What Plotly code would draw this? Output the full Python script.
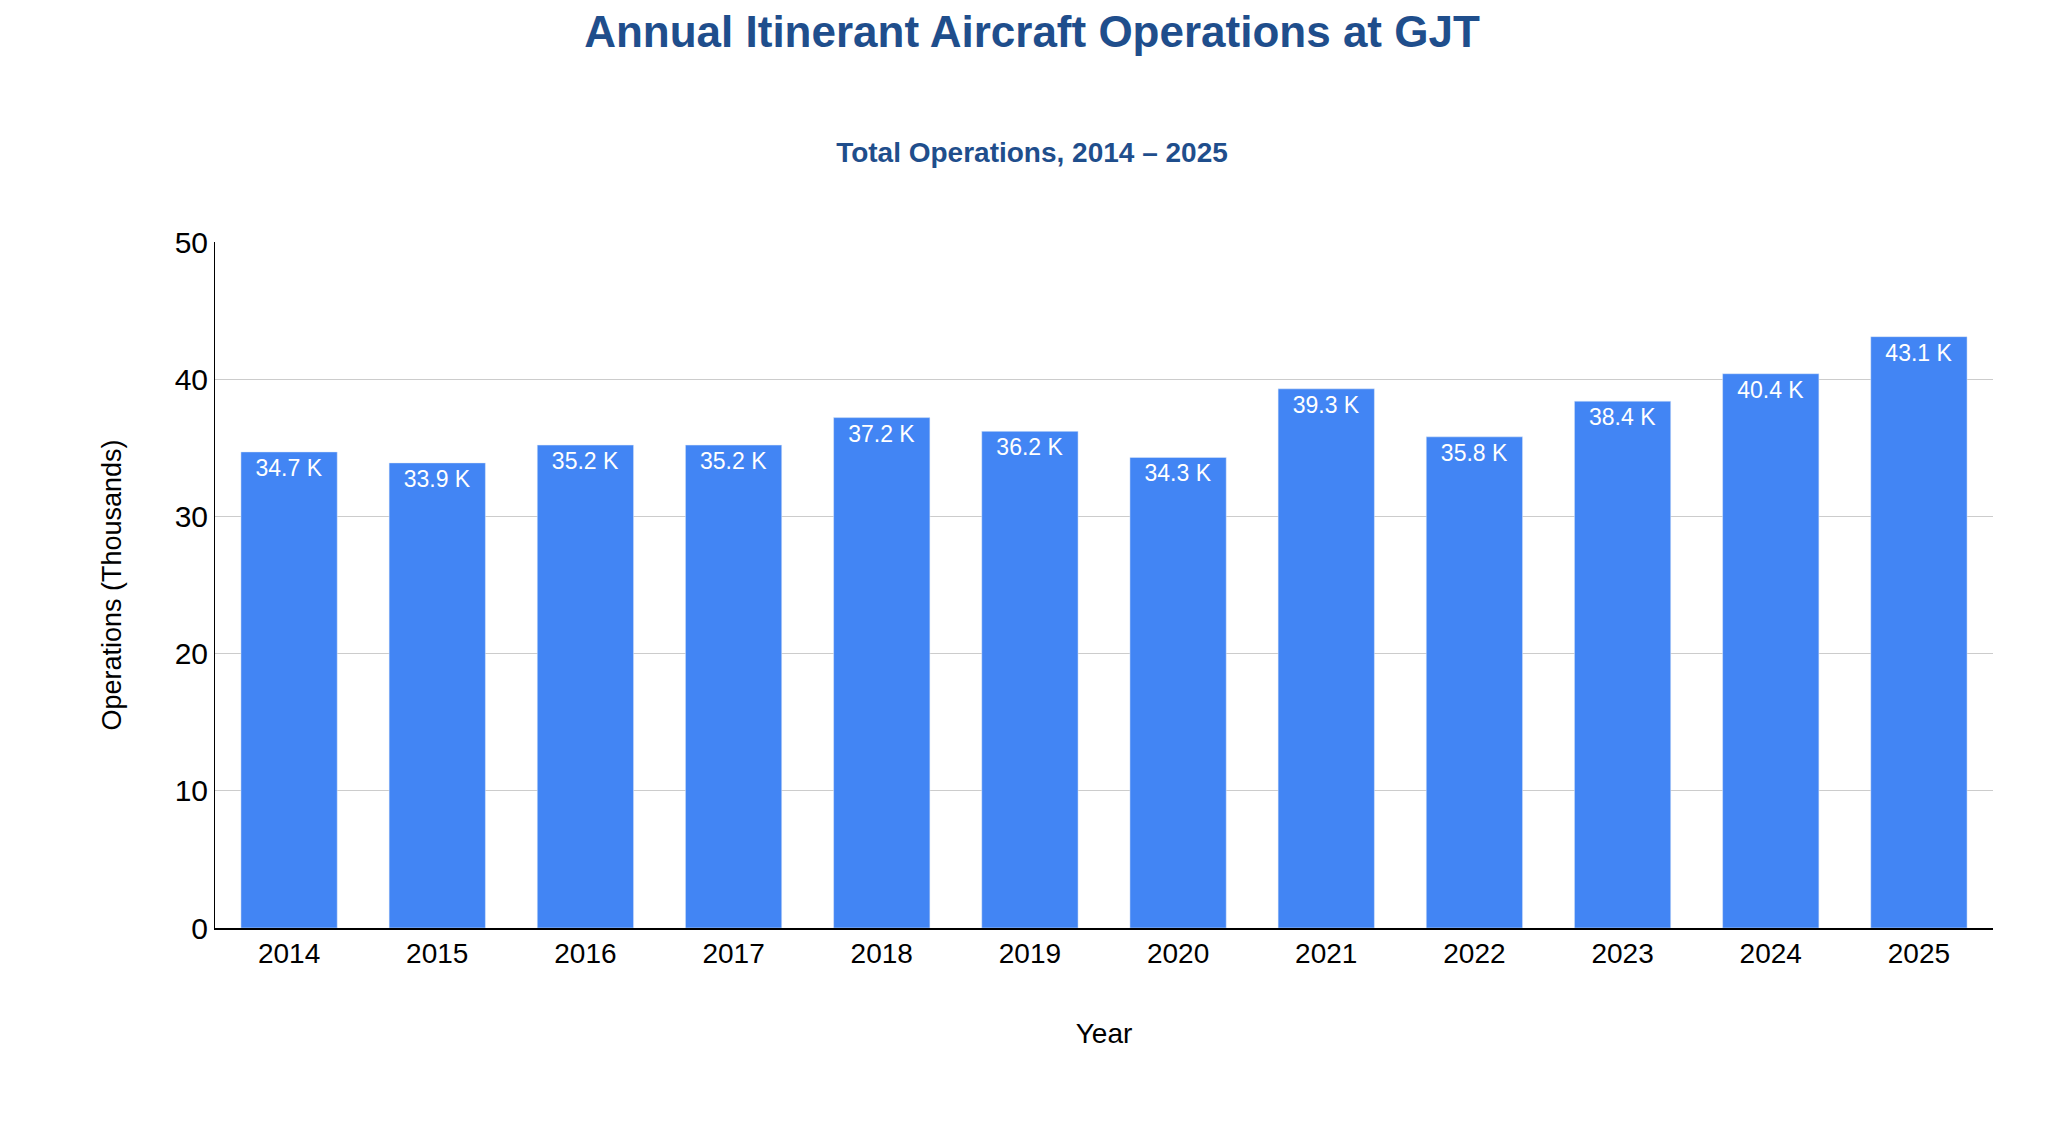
import plotly.graph_objects as go

years = ["2014","2015","2016","2017","2018","2019","2020","2021","2022","2023","2024","2025"]
ops = [34.7, 33.9, 35.2, 35.2, 37.2, 36.2, 34.3, 39.3, 35.8, 38.4, 40.4, 43.1]
labels = [f"{v:.1f} K" for v in ops]

fig = go.Figure(go.Bar(
    x=years, y=ops, text=labels, textposition="inside", insidetextanchor="end",
    textfont=dict(color="white", size=23, family="Liberation Sans"),
    marker_color="#4285F4", width=0.65, cliponaxis=False))

fig.update_layout(
    width=2048, height=1124, paper_bgcolor="white", plot_bgcolor="white",
    margin=dict(l=207, r=63, t=234, b=204),
    font=dict(family="Liberation Sans", color="black", size=28),
    title=dict(text="<b>Annual Itinerant Aircraft Operations at GJT</b><br><span style='font-size:10px'> </span><br><span style='font-size:28px'><b>Total Operations, 2014 – 2025</b></span>",
               x=0.5, xanchor="center", y=0.965, yanchor="top",
               font=dict(size=44, color="#1f4e8c", family="Liberation Sans")),
    showlegend=False, bargap=0.35,
)
fig.update_xaxes(title=dict(text="Year", standoff=55, font=dict(size=28)), showline=True, linecolor="black",
                 linewidth=1.5, ticks="", tickfont=dict(size=28))
fig.update_yaxes(title=dict(text="Operations (Thousands)", standoff=45, font=dict(size=27)), range=[0, 50], dtick=10,
                 gridcolor="#cccccc", zeroline=False, showline=True, linecolor="black",
                 tickfont=dict(size=30))
fig.write_html("out.html")
